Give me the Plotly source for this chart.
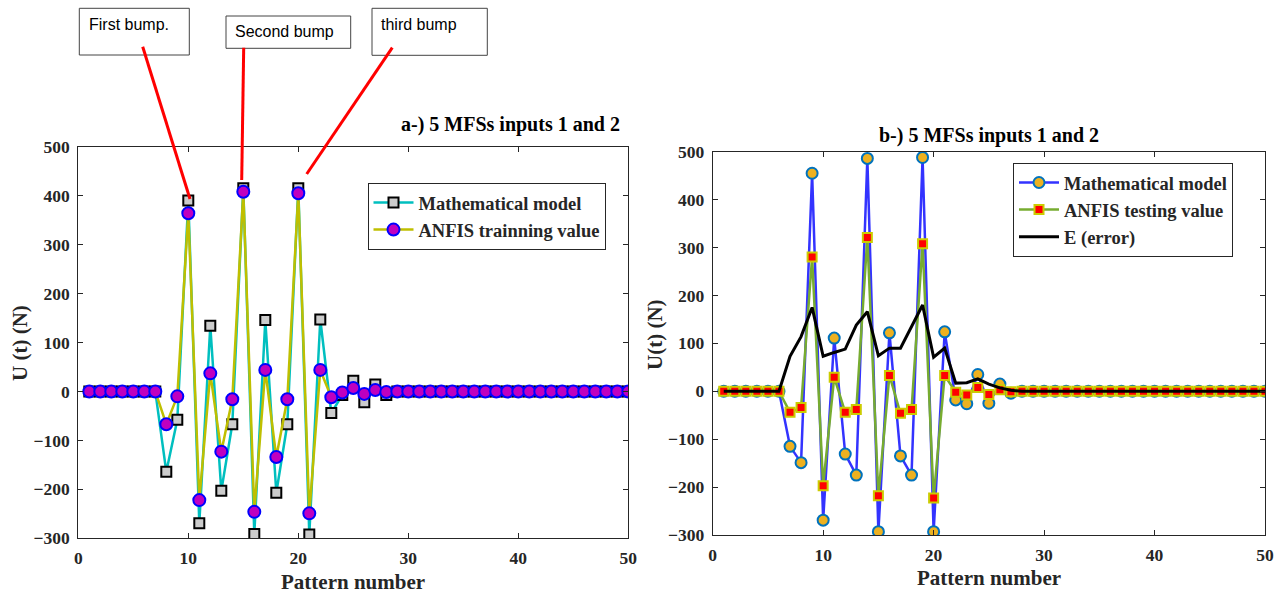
import plotly.graph_objects as go

# ---------------- data ----------------
pattern = list(range(1, 51))

math_a = [0, 0, 0, 0, 0, 0, 0, -164, -58, 390,
          -269, 134, -203, -67, 415, -291, 146, -207, -67, 415,
          -292, 147, -44, -7, 22, -22, 14, -7, 0, 0,
          0, 0, 0, 0, 0, 0, 0, 0, 0, 0,
          0, 0, 0, 0, 0, 0, 0, 0, 0, 0]
anfis_train = [0, 0, 0, 0, 0, 0, 0, -67, -10, 364,
               -222, 37, -123, -16, 408, -246, 44, -134, -16, 405,
               -249, 44, -12, -2, 7, -5, 3, -1, 0, 0,
               0, 0, 0, 0, 0, 0, 0, 0, 0, 0,
               0, 0, 0, 0, 0, 0, 0, 0, 0, 0]

math_b = [0, 0, 0, 0, 0, 0, -115, -149, 455, -269,
          111, -131, -175, 486, -293, 122, -135, -175, 488, -293,
          124, -18, -26, 35, -25, 15, -4, 0, 0, 0,
          0, 0, 0, 0, 0, 0, 0, 0, 0, 0,
          0, 0, 0, 0, 0, 0, 0, 0, 0, 0]
anfis_test = [0, 0, 0, 0, 0, 0, -44, -34, 280, -197,
              29, -44, -38, 321, -218, 33, -46, -38, 308, -223,
              33, -2, -8, 8, -7, 3, -1, 0, 0, 0,
              0, 0, 0, 0, 0, 0, 0, 0, 0, 0,
              0, 0, 0, 0, 0, 0, 0, 0, 0, 0]
error_b = [0, 0, 0, 0, 0, 0, 73, 114, 175, 73,
           81, 88, 138, 166, 74, 90, 90, 134, 180, 71,
           90, 17, 18, 26, 15, 7, 2, 0, 0, 0,
           0, 0, 0, 0, 0, 0, 0, 0, 0, 0,
           0, 0, 0, 0, 0, 0, 0, 0, 0, 0]

x_ticks = [0, 10, 20, 30, 40, 50]
y_ticks = [-300, -200, -100, 0, 100, 200, 300, 400, 500]

# ---------------- layout helpers ----------------
W, H = 1281, 594
def px(x):
    return x / W
def py(y):
    return 1 - y / H

SERIF = "Liberation Serif"
SANS = "Liberation Sans"
INK = "#262626"

fig = go.Figure()

# ---- left panel ----
fig.add_trace(go.Scatter(
    x=pattern, y=math_a, mode="lines+markers", name="Mathematical model",
    line=dict(color="#00BFBF", width=2.5),
    marker=dict(symbol="square", size=10, color="#CCCCCC",
                line=dict(color="#000000", width=2)),
    xaxis="x", yaxis="y", legend="legend"))
fig.add_trace(go.Scatter(
    x=pattern, y=anfis_train, mode="lines+markers", name="ANFIS trainning value",
    line=dict(color="#BFBF00", width=2.5),
    marker=dict(symbol="circle", size=12, color="#BF00BF",
                line=dict(color="#0000FF", width=2)),
    xaxis="x", yaxis="y", legend="legend"))

# ---- right panel ----
fig.add_trace(go.Scatter(
    x=pattern, y=math_b, mode="lines+markers", name="Mathematical model",
    line=dict(color="#3333FF", width=2.5),
    marker=dict(symbol="circle", size=11, color="#EDB120",
                line=dict(color="#0072BD", width=2)),
    xaxis="x2", yaxis="y2", legend="legend2"))
fig.add_trace(go.Scatter(
    x=pattern, y=anfis_test, mode="lines+markers", name="ANFIS testing value",
    line=dict(color="#77AC30", width=2.5),
    marker=dict(symbol="square", size=9, color="#FF0000",
                line=dict(color="#CCCC00", width=2)),
    xaxis="x2", yaxis="y2", legend="legend2"))
fig.add_trace(go.Scatter(
    x=pattern, y=error_b, mode="lines", name="E (error)",
    line=dict(color="#000000", width=3),
    xaxis="x2", yaxis="y2", legend="legend2"))

axis_common = dict(
    showgrid=False, zeroline=False, showline=True, linecolor=INK, linewidth=1,
    mirror="ticks", ticks="inside", ticklen=5, tickcolor=INK,
    tickfont=dict(family=SERIF, size=17.5, color=INK, weight="bold"),
    automargin=False,
)

legend_common = dict(xanchor="left", yanchor="top",
                     bgcolor="white", bordercolor=INK, borderwidth=1,
                     font=dict(family=SERIF, size=18.5, color=INK, weight="bold"),
                     itemwidth=40, tracegroupgap=0)

fig.update_layout(
    width=W, height=H,
    margin=dict(l=0, r=0, t=0, b=0),
    paper_bgcolor="white", plot_bgcolor="white",
    font=dict(family=SERIF, color=INK),
    xaxis=dict(domain=[px(78.3), px(628.3)], range=[0, 50], tickvals=x_ticks,
               anchor="y", ticklabelstandoff=4, **axis_common),
    yaxis=dict(domain=[py(538.3), py(146.7)], range=[-300, 500], tickvals=y_ticks,
               anchor="x", ticklabelstandoff=4, **axis_common),
    xaxis2=dict(domain=[px(712.7), px(1265)], range=[0, 50], tickvals=x_ticks,
                anchor="y2", ticklabelstandoff=4, **axis_common),
    yaxis2=dict(domain=[py(535), py(151.7)], range=[-300, 500], tickvals=y_ticks,
                anchor="x2", ticklabelstandoff=4, **axis_common),
    legend=dict(x=px(367.5), y=py(183), **legend_common),
    legend2=dict(x=px(1013), y=py(163), **legend_common),
    showlegend=True,
    hovermode=False,
)

annotations = [
    # panel titles
    dict(text="a-) 5 MFSs inputs 1 and 2", x=px(621.5), y=py(125),
         xanchor="right", yanchor="middle",
         font=dict(family=SERIF, size=20, color="#000000", weight="bold")),
    dict(text="b-) 5 MFSs inputs 1 and 2", x=px(989), y=py(135),
         xanchor="center", yanchor="middle",
         font=dict(family=SERIF, size=20, color="#000000", weight="bold")),
    # axis titles
    dict(text="Pattern number", x=px(353), y=py(582), xanchor="center", yanchor="middle",
         font=dict(family=SERIF, size=21, color=INK, weight="bold")),
    dict(text="Pattern number", x=px(989), y=py(578), xanchor="center", yanchor="middle",
         font=dict(family=SERIF, size=21, color=INK, weight="bold")),
    dict(text="U (t) (N)", x=px(20), y=py(343), xanchor="center", yanchor="middle",
         textangle=-90, font=dict(family=SERIF, size=21, color=INK, weight="bold")),
    dict(text="U(t) (N)", x=px(655), y=py(335), xanchor="center", yanchor="middle",
         textangle=-90, font=dict(family=SERIF, size=21, color=INK, weight="bold")),
    # callout texts
    dict(text="First bump.", x=px(87), y=py(24), xanchor="left", yanchor="middle",
         font=dict(family=SANS, size=16, color="#000000")),
    dict(text="Second bump", x=px(233), y=py(32), xanchor="left", yanchor="middle",
         font=dict(family=SANS, size=16, color="#000000")),
    dict(text="third bump", x=px(379), y=py(24), xanchor="left", yanchor="middle",
         font=dict(family=SANS, size=16, color="#000000")),
]
for a in annotations:
    a.update(xref="paper", yref="paper", showarrow=False)
fig.update_layout(annotations=annotations)

boxes = [(79.3, 8.3, 189.3, 55), (226, 16, 350.7, 48.3), (372, 8.3, 487.3, 55.3)]
shapes = []
for (x0, y0, x1, y1) in boxes:
    shapes.append(dict(type="rect", xref="paper", yref="paper",
                       x0=px(x0), x1=px(x1), y0=py(y1), y1=py(y0),
                       line=dict(color="#444444", width=1), fillcolor="white",
                       layer="below"))
lines = [((142.7, 46.7), (190, 199)), ((243.7, 47.7), (241.7, 180)),
         ((392.3, 47.7), (306.7, 174))]
for (a, b) in lines:
    shapes.append(dict(type="line", xref="paper", yref="paper",
                       x0=px(a[0]), y0=py(a[1]), x1=px(b[0]), y1=py(b[1]),
                       line=dict(color="#FF0000", width=3), layer="above"))
fig.update_layout(shapes=shapes)

fig.write_html(
    "out.html",
    config={"displayModeBar": False},
    post_script="document.body.style.margin='0px';document.body.style.overflow='hidden';",
)
